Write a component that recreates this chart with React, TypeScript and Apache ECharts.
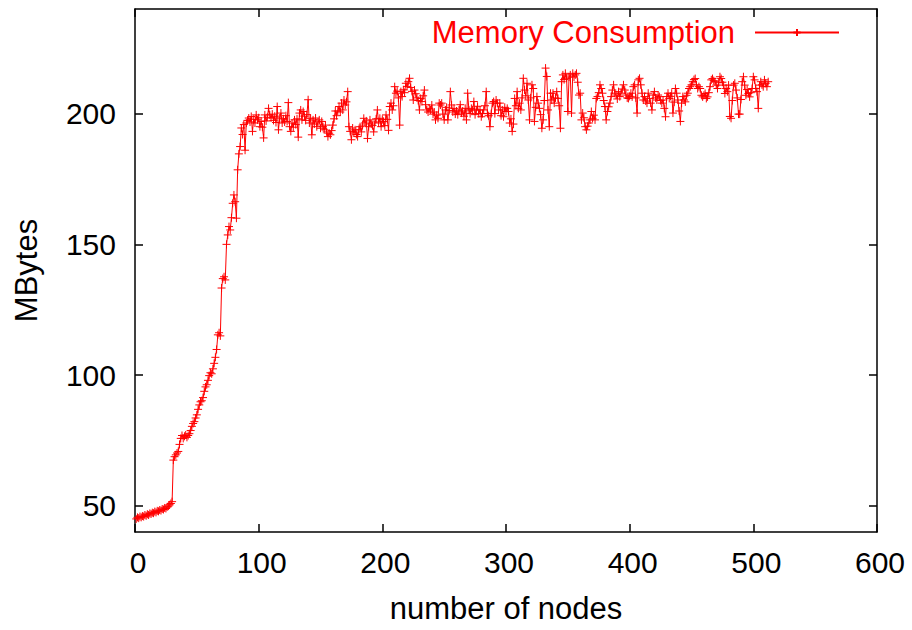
import React, { useEffect, useRef } from "react";
import * as echarts from "echarts";

// Memory consumption (MBytes) per number of nodes, nodes 1..512
const memoryA = [
  45.0, 45.6, 45.3, 45.9, 45.6, 46.1, 45.9, 46.5, 46.2, 46.8,
  46.5, 47.1, 46.9, 47.4, 47.2, 47.8, 47.5, 48.1, 47.9, 48.4,
  48.2, 48.8, 48.6, 49.2, 49.0, 49.6, 49.9, 50.4, 50.9, 51.6,
  67.5, 68.8, 69.5, 70.2, 70.8, 73.5, 75.8, 76.9, 75.8, 76.6,
  77.1, 76.2, 76.9, 77.6, 78.8, 80.4, 81.5, 82.2, 83.6, 84.8,
  86.9, 88.6, 89.8, 90.2, 91.4, 93.8, 95.5, 96.3, 98.0, 99.8,
  100.9, 100.5, 102.4, 104.5, 106.8, 109.8, 115.4, 116.2, 115.0, 133.3,
  136.9, 137.6, 136.4, 150.0, 153.6, 156.8, 155.5, 160.2, 165.7, 168.9,
  166.3, 160.0, 178.5, 184.6, 187.4, 194.5, 192.0, 195.8, 186.0, 196.4,
  197.4, 198.3, 196.8, 198.9, 193.2, 197.8, 196.4, 199.5, 197.6, 198.4,
];
const memoryB = [
  195.0, 197.0, 194.8, 190.7, 199.5, 197.2, 198.6, 202.0, 199.5, 198.3,
  199.8, 197.4, 199.0, 196.6, 202.7, 193.8, 198.3, 200.2, 196.4, 198.0,
  196.8, 199.2, 197.0, 204.2, 195.0, 193.2, 196.4, 194.8, 197.6, 195.8,
  198.0, 191.0, 200.2, 201.4, 197.6, 200.8, 199.0, 197.4, 199.6, 205.3,
  196.4, 198.2, 191.9, 197.6, 196.0, 198.3, 195.0, 196.8, 197.6, 194.4,
  197.0, 195.0, 193.8, 195.6, 193.0, 191.2, 192.5, 191.9, 193.5, 195.6,
  198.0, 201.0, 199.2, 201.0, 202.7, 200.6, 204.0, 201.4, 205.2, 203.3,
  204.5, 208.4, 195.0, 193.2, 190.0, 194.5, 192.6, 193.8, 192.0, 191.2,
  193.8, 195.0, 193.0, 195.6, 198.2, 196.4, 197.2, 190.5, 195.0, 197.6,
  196.0, 195.4, 193.0, 196.8, 198.0, 201.4, 196.4, 198.2, 195.0, 197.8,
];
const memoryC = [
  197.0, 195.4, 199.5, 197.8, 193.6, 202.7, 204.0, 201.4, 203.0, 210.3,
  207.8, 208.6, 206.0, 195.6, 208.4, 206.5, 209.1, 208.0, 211.6, 210.4,
  212.2, 213.5, 210.0, 208.5, 205.2, 209.0, 207.6, 206.0, 205.0, 201.4,
  205.8, 204.6, 206.8, 209.0, 203.4, 201.4, 200.6, 202.0, 201.4, 203.3,
  199.8, 200.6, 197.6, 199.4, 198.2, 204.0, 203.3, 204.0, 199.8, 197.6,
  201.4, 202.4, 197.6, 201.2, 208.4, 203.3, 200.6, 202.0, 199.8, 201.0,
  199.6, 201.4, 203.4, 200.2, 201.0, 199.0, 202.0, 197.6, 207.8, 201.4,
  200.0, 202.0, 201.4, 204.6, 199.6, 201.4, 202.8, 200.0, 201.4, 198.8,
  200.0, 201.4, 203.0, 208.4, 200.0, 199.2, 195.0, 200.0, 204.0, 204.6,
  200.0, 205.2, 204.0, 201.4, 204.0, 199.2, 201.4, 198.8, 202.4, 200.8,
];
const memoryD = [
  202.0, 200.8, 196.4, 198.0, 193.2, 196.0, 205.8, 203.0, 208.4, 202.0,
  204.0, 201.4, 206.0, 213.5, 209.0, 206.8, 211.6, 205.2, 197.6, 206.0,
  211.0, 209.6, 197.0, 202.4, 206.5, 204.0, 202.0, 199.6, 194.4, 197.6,
  205.0, 217.4, 214.2, 201.4, 195.0, 207.8, 205.2, 207.8, 204.0, 206.0,
  208.4, 205.8, 203.0, 194.4, 212.2, 214.8, 213.0, 215.4, 213.5, 200.8,
  214.0, 214.8, 200.2, 215.4, 214.0, 214.8, 215.4, 212.0, 207.1, 207.8,
  197.6, 200.2, 198.4, 195.0, 193.8, 195.2, 196.4, 197.6, 200.8, 198.2,
  199.4, 197.6, 205.8, 206.5, 208.0, 211.0, 209.6, 207.8, 205.0, 202.7,
  197.6, 200.8, 202.6, 204.0, 206.5, 209.0, 211.0, 207.8, 207.1, 205.6,
  208.4, 206.5, 207.8, 209.4, 211.0, 209.0, 207.1, 206.0, 205.8, 206.6,
];
const memoryE = [
  207.8, 206.4, 210.3, 211.0, 206.0, 200.2, 212.9, 213.5, 211.0, 207.8,
  205.2, 206.5, 204.8, 204.0, 207.8, 205.8, 204.0, 201.4, 207.1, 208.4,
  206.0, 205.2, 207.1, 206.5, 205.0, 204.0, 205.2, 202.0, 198.8, 206.5,
  207.8, 205.8, 206.6, 207.8, 200.2, 204.4, 209.6, 207.8, 205.2, 201.0,
  197.0, 204.0, 206.5, 205.2, 204.5, 207.0, 207.8, 209.6, 210.3, 211.0,
  212.2, 213.0, 213.4, 211.0, 209.6, 210.3, 209.6, 207.0, 206.4, 207.0,
  207.7, 205.8, 206.4, 208.0, 210.3, 212.9, 213.4, 212.6, 212.2, 210.9,
  209.6, 211.8, 214.1, 213.4, 212.0, 210.9, 207.7, 209.6, 208.4, 210.9,
  198.9, 198.2, 205.0, 210.9, 211.6, 209.0, 206.0, 199.8, 199.8, 205.4,
  212.2, 214.1, 210.9, 207.0, 209.2, 207.7, 206.4, 208.0, 209.6, 214.1,
  212.9, 209.6, 208.4, 202.0, 210.9, 212.2, 211.0, 210.3, 212.9, 211.6,
  210.3, 212.2,
];

const memory = [...memoryA, ...memoryB, ...memoryC, ...memoryD, ...memoryE];
const nodes = memory.map((_, i) => i + 1);

const seriesName = "Memory Consumption";
const xTitle = "number of nodes";
const yTitle = "MBytes";
const yTicks = [50, 100, 150, 200];

const FONT = '"Liberation Sans", Arial, Helvetica, sans-serif';
const RED = "#ff0000";
const BLACK = "#000000";
const PLUS = "path://M0,5L10,5M5,0L5,10";

export default function App() {
  const ref = useRef<HTMLDivElement>(null);

  useEffect(() => {
    if (!ref.current) return;
    const chart = echarts.init(ref.current, undefined, { renderer: "svg" });

    const axisLine = { show: true, onZero: false, lineStyle: { color: BLACK, width: 1.5 } };
    const axisTick = { show: true, inside: true, length: 8, lineStyle: { color: BLACK, width: 1.5 } };

    chart.setOption({
      animation: false,
      backgroundColor: "#ffffff",
      grid: { left: 135, right: 35, top: 9, bottom: 98, containLabel: false },
      legend: {
        data: [seriesName],
        right: 72,
        top: 17,
        padding: 0,
        align: "right",
        itemWidth: 84,
        itemHeight: 9,
        textStyle: { color: RED, fontSize: 31, fontFamily: FONT, padding: [0, 15, 0, 0] },
      },
      xAxis: [
        {
          type: "value",
          min: 0,
          max: 600,
          interval: 100,
          position: "bottom",
          axisLine,
          axisTick,
          splitLine: { show: false },
          axisLabel: { color: BLACK, fontSize: 30, fontFamily: FONT, margin: 15, padding: [0, 0, 0, 6] },
          name: xTitle,
          nameLocation: "middle",
          nameGap: 61,
          nameTextStyle: { color: BLACK, fontSize: 31, fontFamily: FONT },
        },
        {
          type: "value",
          min: 0,
          max: 600,
          interval: 100,
          position: "top",
          axisLine,
          axisTick,
          splitLine: { show: false },
          axisLabel: { show: false },
        },
      ],
      yAxis: [
        {
          type: "value",
          min: 40,
          max: 240,
          position: "left",
          axisLine,
          axisTick: { ...axisTick, customValues: yTicks },
          splitLine: { show: false },
          axisLabel: { color: BLACK, fontSize: 30, fontFamily: FONT, margin: 19, customValues: yTicks },
          name: yTitle,
          nameLocation: "middle",
          nameGap: 93,
          nameRotate: 90,
          nameTextStyle: { color: BLACK, fontSize: 31, fontFamily: FONT },
        },
        {
          type: "value",
          min: 40,
          max: 240,
          position: "right",
          axisLine,
          axisTick: { ...axisTick, customValues: yTicks },
          splitLine: { show: false },
          axisLabel: { show: false, customValues: yTicks },
        },
      ],
      series: [
        {
          name: seriesName,
          type: "line",
          xAxisIndex: 0,
          yAxisIndex: 0,
          data: nodes.map((n, i) => [n, memory[i]]),
          symbol: PLUS,
          symbolSize: 8,
          showSymbol: true,
          lineStyle: { color: RED, width: 1 },
          itemStyle: { color: RED, borderColor: RED, borderWidth: 1 },
        },
      ],
    });

    return () => chart.dispose();
  }, []);

  return (
    <div
      ref={ref}
      style={{ position: "fixed", left: 0, top: 0, width: 912, height: 630, background: "#fff" }}
    />
  );
}
